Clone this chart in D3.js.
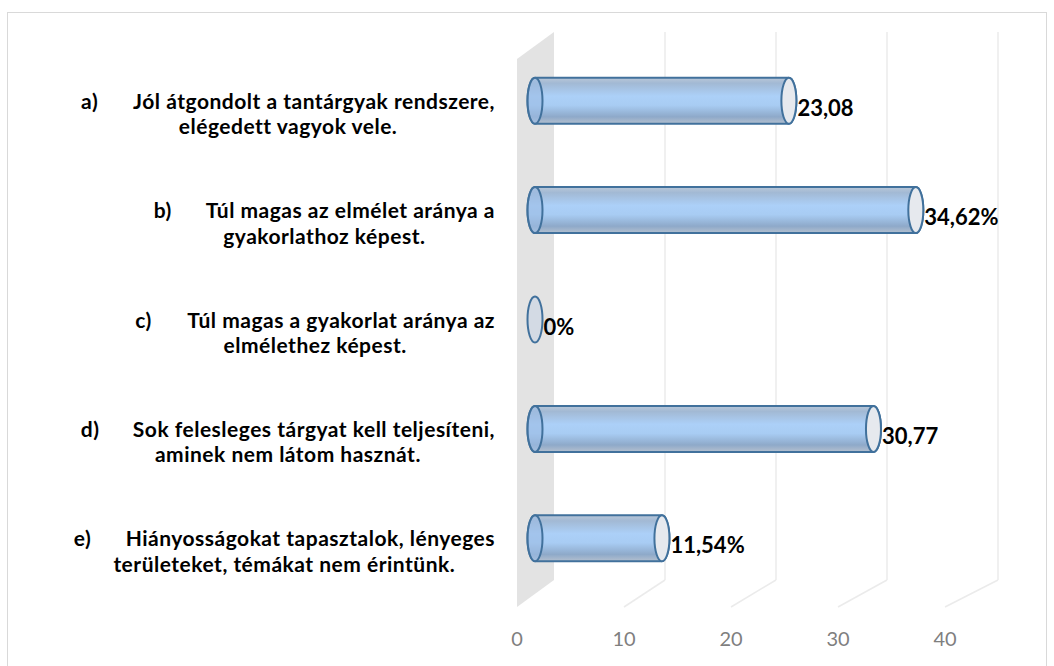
<!DOCTYPE html>
<html>
<head>
<meta charset="utf-8">
<script src="https://cdn.jsdelivr.net/npm/d3@7"></script>
<style>
  html, body { margin: 0; padding: 0; background: #fff; }
  svg { display: block; }
  .cat-label { font-family: Lato, "Open Sans", sans-serif; font-weight: 700; font-size: 21px; letter-spacing: 0.5px; fill: #000; }
  .val-label { font-family: Lato, "Open Sans", sans-serif; font-weight: 700; font-size: 22px; fill: #000; }
  .tick-label { font-family: Lato, "Open Sans", sans-serif; font-size: 20px; fill: #7f7f7f; }
</style>
</head>
<body>
<svg id="chart"></svg>
<script>
// 3D cylinder bar chart (Excel style), drawn with D3

const width = 1054;
const height = 666;

// ---- data ----
const markers = ["a)", "b)", "c)", "d)", "e)"];
const line1 = [
  "Jól átgondolt a tantárgyak rendszere,",
  "Túl magas az elmélet aránya a",
  "Túl magas a gyakorlat aránya az",
  "Sok felesleges tárgyat kell teljesíteni,",
  "Hiányosságokat tapasztalok, lényeges",
];
const line2 = [
  "elégedett vagyok vele.",
  "gyakorlathoz képest.",
  "elmélethez képest.",
  "aminek nem látom hasznát.",
  "területeket, témákat nem érintünk.",
];
const values = [23.08, 34.62, 0, 30.77, 11.54];
const valueLabels = ["23,08", "34,62%", "0%", "30,77", "11,54%"];
const ticks = [0, 10, 20, 30, 40];

// ---- layout ----
const depthY = 27;
const floorY = 607; // front bottom
const wallTopY = 59; // front top
const labelRight = 495;
const tabStop = 52;
const lineHeight = 25.5;
const barHalf = 23;
const capRx = 7.5;

const svg = d3.select("#chart").attr("width", width).attr("height", height);

const defs = svg.append("defs");
const grad = defs
  .append("linearGradient")
  .attr("id", "barGrad")
  .attr("x1", 0).attr("y1", 0).attr("x2", 0).attr("y2", 1);
[
  [0, "#b9c7d8"],
  [0.12, "#a2b9d4"],
  [0.4, "#acd0f8"],
  [0.6, "#a8ccf3"],
  [0.85, "#8ea9c9"],
  [1, "#b4c0cf"],
].forEach(([o, c]) => grad.append("stop").attr("offset", o).attr("stop-color", c));

// chart area border
svg
  .append("rect")
  .attr("x", 7.5)
  .attr("y", 12.5)
  .attr("width", 1039)
  .attr("height", 700)
  .attr("fill", "#fff")
  .attr("stroke", "#d9d9d9")
  .attr("stroke-width", 1);

// scales
const xFront = d3.scaleLinear().domain([0, 40]).range([517, 945]);
const xBack = d3.scaleLinear().domain([0, 40]).range([554, 998]);
const xMid = d3.scaleLinear().domain([0, 40]).range([535, 975]);
const y = d3.scaleBand().domain(markers).range([46, 593]);
const yc = (m) => y(m) + y.bandwidth() / 2;

// side wall
svg
  .append("path")
  .attr(
    "d",
    `M${xFront(0)},${wallTopY} L${xBack(0)},${wallTopY - depthY} L${xBack(0)},${floorY - depthY} L${xFront(0)},${floorY} Z`
  )
  .attr("fill", "#e3e3e3");

// back wall gridlines + floor gridlines
const grid = svg.append("g").attr("class", "grid");
grid
  .selectAll(".vgrid")
  .data(ticks.slice(1))
  .enter()
  .append("line")
  .attr("x1", (d) => xBack(d))
  .attr("x2", (d) => xBack(d))
  .attr("y1", wallTopY - depthY)
  .attr("y2", floorY - depthY)
  .attr("stroke", "#ebebeb")
  .attr("stroke-width", 1.5);
grid
  .selectAll(".fgrid")
  .data(ticks.slice(1))
  .enter()
  .append("line")
  .attr("x1", (d) => xBack(d))
  .attr("y1", floorY - depthY)
  .attr("x2", (d) => xFront(d))
  .attr("y2", floorY)
  .attr("stroke", "#ebebeb")
  .attr("stroke-width", 1.5);

// tick labels
svg
  .selectAll(".tick-label")
  .data(ticks)
  .enter()
  .append("text")
  .attr("class", "tick-label")
  .attr("x", (d) => xFront(d))
  .attr("y", 646)
  .attr("text-anchor", "middle")
  .text((d) => d);

// bars
const bars = svg
  .selectAll(".bar")
  .data(values.map((v, i) => ({ v, m: markers[i], label: valueLabels[i] })))
  .enter()
  .append("g")
  .attr("class", "bar");

bars
  .filter((d) => d.v > 0)
  .append("path")
  .attr("d", (d) => {
    const x0 = xMid(0);
    const x1 = xMid(d.v);
    const cy = yc(d.m);
    return `M${x0},${cy - barHalf} L${x1},${cy - barHalf} A${capRx},${barHalf} 0 0 1 ${x1},${cy + barHalf} L${x0},${cy + barHalf} A${capRx},${barHalf} 0 0 1 ${x0},${cy - barHalf} Z`;
  })
  .attr("fill", "url(#barGrad)")
  .attr("stroke", "#41719c")
  .attr("stroke-width", 2)
  .attr("stroke-linejoin", "round");

// left cap (rear side, seen through)
bars
  .filter((d) => d.v > 0)
  .append("ellipse")
  .attr("cx", xMid(0))
  .attr("cy", (d) => yc(d.m))
  .attr("rx", capRx)
  .attr("ry", barHalf)
  .attr("fill", "#9dbde4")
  .attr("fill-opacity", 0.6)
  .attr("stroke", "#41719c")
  .attr("stroke-width", 2);

// right cap
bars
  .append("ellipse")
  .attr("cx", (d) => xMid(d.v))
  .attr("cy", (d) => yc(d.m))
  .attr("rx", capRx)
  .attr("ry", barHalf)
  .attr("fill", (d) => (d.v > 0 ? "#e6e9ee" : "#d3dae4"))
  .attr("stroke", "#41719c")
  .attr("stroke-width", 2);

// value labels
bars
  .append("text")
  .attr("class", "val-label")
  .attr("x", (d) => xMid(d.v) + capRx + 1)
  .attr("y", (d) => yc(d.m) + 15)
  .text((d) => d.label);

// category labels: block right-aligned, lines centered, tab after marker
const cats = svg.append("g").attr("class", "cats");
markers.forEach((m, i) => {
  const g = cats.append("g");
  const cy = yc(m);
  const tMark = g.append("text").attr("class", "cat-label").text(m);
  const t1 = g.append("text").attr("class", "cat-label").text(line1[i]);
  const t2 = g.append("text").attr("class", "cat-label").text(line2[i]);
  const w1 = tabStop + t1.node().getComputedTextLength();
  const w2 = t2.node().getComputedTextLength();
  const block = Math.max(w1, w2);
  const center = labelRight - block / 2;
  const base1 = cy + 8;
  tMark.attr("x", center - w1 / 2).attr("y", base1);
  t1.attr("x", center - w1 / 2 + tabStop).attr("y", base1);
  t2.attr("x", center).attr("y", base1 + lineHeight).attr("text-anchor", "middle");
});
</script>
</body>
</html>
